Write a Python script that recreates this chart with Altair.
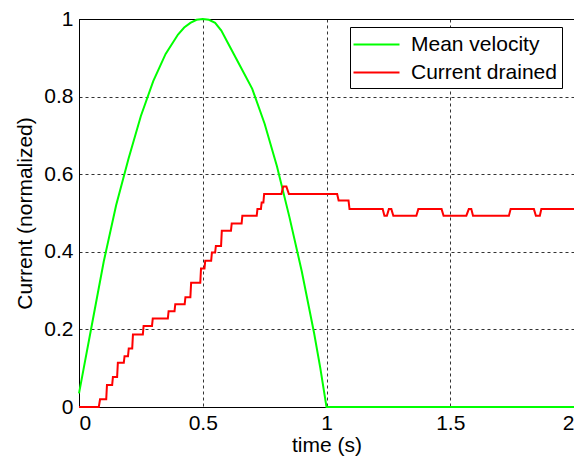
import altair as alt
import pandas as pd

# Mean velocity (green)
green_t = [0.0, 0.025, 0.05, 0.1, 0.15, 0.2, 0.25, 0.3, 0.35, 0.4, 0.425, 0.45, 0.475, 0.5,
           0.525, 0.55, 0.575, 0.6, 0.65, 0.7, 0.75, 0.8, 0.85, 0.9, 0.95, 0.975, 1.0, 2.0]
green_v = [0.035, 0.12, 0.205, 0.375, 0.52, 0.64, 0.75, 0.84, 0.91, 0.96, 0.978, 0.99, 0.998, 1.0,
           0.998, 0.99, 0.97, 0.94, 0.88, 0.82, 0.73, 0.62, 0.49, 0.35, 0.19, 0.1, 0.0, 0.0]

# Current drained (red), step-like trace
red_t = [0.0, 0.08, 0.085, 0.11, 0.113, 0.134, 0.137, 0.154, 0.157, 0.181,
         0.184, 0.198, 0.201, 0.215, 0.218, 0.258, 0.261, 0.295, 0.298, 0.359,
         0.362, 0.386, 0.389, 0.427, 0.43, 0.45, 0.453, 0.49, 0.493, 0.507,
         0.51, 0.534, 0.537, 0.55, 0.553, 0.574, 0.577, 0.614, 0.617, 0.657,
         0.66, 0.718, 0.721, 0.735, 0.738, 0.745, 0.748, 0.818, 0.825, 0.838,
         0.848, 1.043, 1.049, 1.089, 1.093, 1.227, 1.234, 1.244, 1.252, 1.262,
         1.27, 1.363, 1.371, 1.465, 1.473, 1.565, 1.575, 1.585, 1.592, 1.737,
         1.744, 1.838, 1.846, 1.862, 1.868, 2.0]
red_v = [0.0, 0.0, 0.02, 0.02, 0.057, 0.057, 0.077, 0.077, 0.114, 0.114,
         0.131, 0.131, 0.151, 0.151, 0.187, 0.187, 0.209, 0.209, 0.228, 0.228,
         0.247, 0.247, 0.265, 0.265, 0.283, 0.283, 0.32, 0.32, 0.357, 0.357,
         0.377, 0.377, 0.398, 0.398, 0.415, 0.415, 0.454, 0.454, 0.473, 0.473,
         0.493, 0.493, 0.51, 0.51, 0.527, 0.527, 0.549, 0.549, 0.568, 0.568,
         0.549, 0.549, 0.532, 0.532, 0.51, 0.51, 0.493, 0.493, 0.51, 0.51,
         0.493, 0.493, 0.51, 0.51, 0.493, 0.493, 0.51, 0.51, 0.493, 0.493,
         0.51, 0.51, 0.493, 0.493, 0.51, 0.51]

series_names = ["Mean velocity", "Current drained"]
series_colors = ["#00ff00", "#ff0000"]
x_ticks = [0, 0.5, 1, 1.5, 2]
y_ticks = [0, 0.2, 0.4, 0.6, 0.8, 1]

green_df = pd.DataFrame({"t": green_t, "v": green_v, "series": series_names[0],
                         "i": range(len(green_t))})
red_df = pd.DataFrame({"t": red_t, "v": red_v, "series": series_names[1],
                       "i": range(len(red_t))})

FONT = "Liberation Sans"

x_enc = alt.X("t:Q", scale=alt.Scale(domain=[0, 2], nice=False),
              axis=alt.Axis(values=x_ticks, title="time (s)", format="~g"))
y_enc = alt.Y("v:Q", scale=alt.Scale(domain=[0, 1], nice=False),
              axis=alt.Axis(values=y_ticks, title="Current (normalized)", format="~g"))
color_enc = alt.Color("series:N",
                      scale=alt.Scale(domain=series_names, range=series_colors),
                      legend=alt.Legend(title=None, orient="none",
                                        legendX=271, legendY=8))

green_layer = alt.Chart(green_df).mark_line(strokeWidth=2).encode(
    x=x_enc, y=y_enc, color=color_enc, order="i:Q")
red_layer = alt.Chart(red_df).mark_line(strokeWidth=2).encode(
    x=x_enc, y=y_enc, color=color_enc, order="i:Q")

chart = alt.layer(green_layer, red_layer).properties(
    width=495, height=388,
    autosize=alt.AutoSizeParams(type="none"),
    padding={"left": 71, "top": 11, "right": 0, "bottom": 50},
).configure_view(
    stroke="black", strokeWidth=1
).configure_axis(
    labelFont=FONT, titleFont=FONT, labelFontSize=21, titleFontSize=21,
    labelColor="black", titleColor="black", titleFontWeight="normal",
    domainColor="black", grid=True, gridColor="black", gridDash=[3, 3],
    gridOpacity=0.8, gridWidth=1, ticks=False,
).configure_axisX(
    labelPadding=5, titlePadding=1,
).configure_axisY(
    labelPadding=6, titlePadding=8,
).configure_legend(
    labelFont=FONT, labelFontSize=21, labelColor="black",
    strokeColor="black", fillColor="white", padding=5,
    symbolType="M-2,0H2", symbolSize=529, symbolStrokeWidth=2,
    symbolOffset=9, labelOffset=22, rowPadding=5, cornerRadius=0,
)

chart.save("out.html", embed_options={"renderer": "svg", "actions": False})
